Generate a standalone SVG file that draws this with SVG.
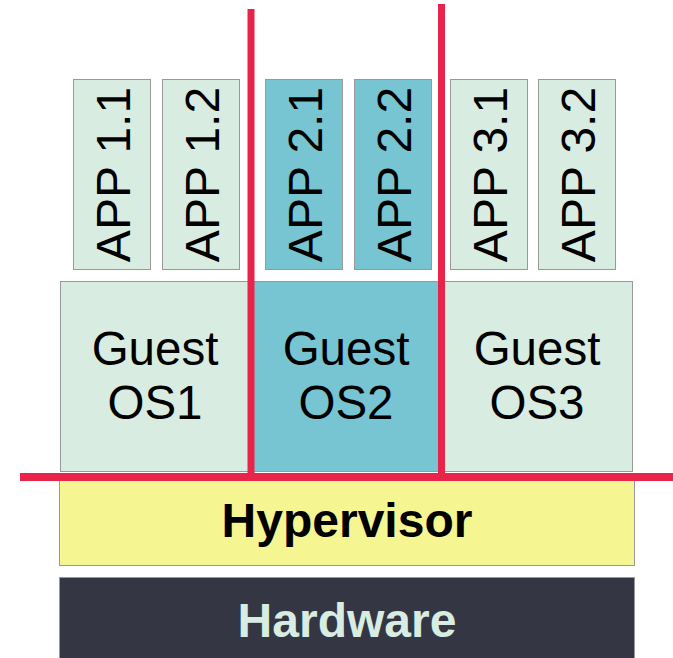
<svg xmlns="http://www.w3.org/2000/svg" width="673" height="658" viewBox="0 0 673 658">
<style>
.box{stroke:#999;stroke-width:1}
.g{fill:#d9ece2}
.t{fill:#77c4d2}
.app{font-family:"Liberation Sans",Arial,sans-serif;font-size:48px;fill:#000;text-anchor:middle}
.os{font-family:"Liberation Sans",Arial,sans-serif;font-size:47.5px;fill:#000;text-anchor:middle}
.big{font-family:"Liberation Sans",Arial,sans-serif;font-size:48px;font-weight:bold;text-anchor:middle}
.red{stroke:#e9244b;fill:none}
</style>
<rect width="673" height="658" fill="#fff"/>
<g id="hardware">
<rect class="box" x="59.5" y="577.5" width="575" height="90" fill="#343644"/>
<text class="big" x="347" y="637" fill="#d9ece2">Hardware</text>
</g>
<g id="hypervisor">
<rect class="box" x="59.5" y="475.5" width="575" height="90" fill="#f5f592"/>
<text class="big" x="347" y="537" fill="#000">Hypervisor</text>
</g>
<g id="guest-os1">
<rect class="box g" x="60.5" y="281.5" width="190" height="190"/>
<text class="os" x="155" y="365">Guest</text>
<text class="os" x="155" y="419">OS1</text>
</g>
<g id="guest-os2">
<rect class="box t" x="250.5" y="281.5" width="191" height="190"/>
<text class="os" x="346" y="365">Guest</text>
<text class="os" x="346" y="419">OS2</text>
</g>
<g id="guest-os3">
<rect class="box g" x="441.5" y="281.5" width="191" height="190"/>
<text class="os" x="537" y="365">Guest</text>
<text class="os" x="537" y="419">OS3</text>
</g>
<g id="app-1-1">
<rect class="box g" x="73.5" y="79.5" width="77" height="190"/>
<text class="app" transform="translate(130,174.5) rotate(-90)">APP 1.1</text>
</g>
<g id="app-1-2">
<rect class="box g" x="162.5" y="79.5" width="77" height="190"/>
<text class="app" transform="translate(219,174.5) rotate(-90)">APP 1.2</text>
</g>
<g id="app-2-1">
<rect class="box t" x="265.5" y="79.5" width="77" height="190"/>
<text class="app" transform="translate(322,174.5) rotate(-90)">APP 2.1</text>
</g>
<g id="app-2-2">
<rect class="box t" x="354.5" y="79.5" width="77" height="190"/>
<text class="app" transform="translate(411,174.5) rotate(-90)">APP 2.2</text>
</g>
<g id="app-3-1">
<rect class="box g" x="450.5" y="79.5" width="77" height="190"/>
<text class="app" transform="translate(507,174.5) rotate(-90)">APP 3.1</text>
</g>
<g id="app-3-2">
<rect class="box g" x="538.5" y="79.5" width="77" height="190"/>
<text class="app" transform="translate(595,174.5) rotate(-90)">APP 3.2</text>
</g>
<g id="connectors">
<line class="red" x1="251" y1="9" x2="251" y2="477" stroke-width="7"/>
<line class="red" x1="441.5" y1="4" x2="441.5" y2="477" stroke-width="7"/>
<line class="red" x1="20" y1="477" x2="673" y2="477" stroke-width="8"/>
</g>
</svg>
